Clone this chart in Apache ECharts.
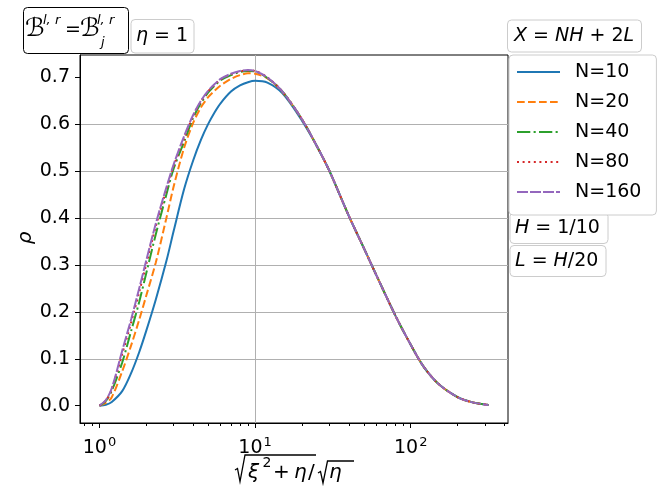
<!DOCTYPE html>
<html>
<head>
<meta charset="utf-8">
<script src="https://cdn.jsdelivr.net/npm/echarts@6/dist/echarts.min.js"></script>
<style>
  html, body { margin: 0; padding: 0; background: #fff; }
  #main { width: 670px; height: 498px; }
</style>
</head>
<body>
<div id="main"></div>
<script>
// x = sqrt(xi^2+eta)/sqrt(eta), log scale
var xs = [1, 1.1, 1.2, 1.4, 1.6, 1.8, 2, 2.3, 2.7, 3, 3.5, 4, 4.5, 5, 5.5, 6, 7, 8, 9, 10, 12, 15, 20, 25, 30, 40, 50, 60, 80, 100, 120, 150, 200, 250, 316.2];

// rho per N
var n10  = [0, 0.002, 0.008, 0.031, 0.070, 0.114, 0.160, 0.226, 0.310, 0.373, 0.462, 0.523, 0.568, 0.601, 0.626, 0.645, 0.670, 0.683, 0.690, 0.693, 0.689, 0.666, 0.608, 0.553, 0.501, 0.405, 0.336, 0.279, 0.191, 0.130, 0.085, 0.047, 0.018, 0.007, 0.0015];
var n20  = [0, 0.006, 0.018, 0.073, 0.129, 0.183, 0.235, 0.305, 0.402, 0.468, 0.550, 0.603, 0.637, 0.658, 0.672, 0.683, 0.697, 0.705, 0.709, 0.708, 0.698, 0.669, 0.611, 0.553, 0.501, 0.405, 0.336, 0.279, 0.191, 0.130, 0.085, 0.047, 0.018, 0.007, 0.0015];
var n40  = [0, 0.010, 0.032, 0.092, 0.160, 0.221, 0.283, 0.365, 0.452, 0.506, 0.563, 0.614, 0.646, 0.668, 0.683, 0.694, 0.705, 0.712, 0.714, 0.713, 0.699, 0.670, 0.611, 0.553, 0.501, 0.405, 0.336, 0.279, 0.191, 0.130, 0.085, 0.047, 0.018, 0.007, 0.0015];
var n80  = [0, 0.011, 0.035, 0.110, 0.178, 0.242, 0.302, 0.382, 0.462, 0.511, 0.570, 0.618, 0.649, 0.671, 0.685, 0.696, 0.707, 0.713, 0.715, 0.714, 0.700, 0.670, 0.611, 0.553, 0.501, 0.405, 0.336, 0.279, 0.191, 0.130, 0.085, 0.047, 0.018, 0.007, 0.0015];
var n160 = [0, 0.012, 0.037, 0.117, 0.185, 0.250, 0.310, 0.388, 0.467, 0.515, 0.575, 0.620, 0.651, 0.672, 0.686, 0.697, 0.708, 0.714, 0.716, 0.714, 0.700, 0.670, 0.611, 0.553, 0.501, 0.405, 0.336, 0.279, 0.191, 0.130, 0.085, 0.047, 0.018, 0.007, 0.0015];

var names = ['N=10', 'N=20', 'N=40', 'N=80', 'N=160'];
var yTicks = [0, 0.1, 0.2, 0.3, 0.4, 0.5, 0.6, 0.7];
var xMajor = [1, 10, 100];
var xMinor = [0.8, 0.9, 2, 3, 4, 5, 6, 7, 8, 9, 20, 30, 40, 50, 60, 70, 80, 90, 200, 300, 400];

(function(){

	var FONT = 'DejaVu Sans';
	var colors = ['#1f77b4', '#ff7f0e', '#2ca02c', '#d62728', '#9467bd'];
	var dashes = ['solid', [7.7, 3.3], [13.3, 3.3, 2.1, 3.3], [2, 3.6], [11, 2]];
	var allData = [n10, n20, n40, n80, n160];

	var xMin = 0.75, xMax = 421.7;
	var yMin = -0.037, yMax = 0.748;

	var myChart = echarts.init(document.getElementById('main'), null, {renderer: 'canvas'});

	var series = allData.map(function(ys, k){
		return {
			name: names[k],
			type: 'line',
			smooth: 0.3,
			symbol: 'none',
			animation: false,
			lineStyle: { color: colors[k], width: 2, type: dashes[k] },
			itemStyle: { color: colors[k] },
			data: xs.map(function(x, i){ return [x, ys[i]]; })
		};
	});

	//small boxes with annotations
	function box(x, y, w, h, stroke){
		return {
			type: 'rect', silent: true,
			shape: { x: x, y: y, width: w, height: h, r: 4 },
			style: { fill: '#fff', stroke: stroke, lineWidth: 1 }
		};
	}
	function txt(x, y, text, size, italic, rich){
		return {
			type: 'text', silent: true, x: x, y: y,
			style: {
				text: text, fill: '#000',
				font: (italic ? 'italic ' : '') + size + 'px "' + FONT + '"',
				verticalAlign: 'middle', align: 'left',
				rich: rich
			}
		};
	}
	function rad(points){
		return { type: 'polyline', silent: true, shape: { points: points }, style: { stroke: '#000', lineWidth: 1.3, fill: null } };
	}
	var richI = { i: { fontStyle: 'italic', fontSize: 19, fontFamily: FONT } };

	var graphics = [
		box(23.5, 7.5, 105, 46, '#000'),
		txt(25, 29, 'ℬ', 25, false),
		txt(43, 21, 'l, r', 13, true),
		txt(65, 30, '=', 19, false),
		txt(80, 29, 'ℬ', 25, false),
		txt(97, 21, 'l, r', 13, true),
		txt(101, 43, 'j', 13, true),

		box(131, 19.5, 63, 33.5, '#cccccc'),
		txt(136, 36, '{i|η} = 1', 19, false, richI),

		box(507.5, 20, 134, 32, '#cccccc'),
		txt(514, 36, '{i|X} = {i|NH} + 2{i|L}', 19, false, richI),

		box(510, 212.5, 98, 31, '#cccccc'),
		txt(515, 228, '{i|H} = 1/10', 19, false, richI),

		box(510, 245.5, 96, 31, '#cccccc'),
		txt(515, 261, '{i|L} = {i|H}/20', 19, false, richI),

		// y axis title
		{
			type: 'text', silent: true, x: 26, y: 238, rotation: Math.PI / 2,
			style: { text: 'ρ', fill: '#000', font: 'italic 20px "' + FONT + '"', align: 'center', verticalAlign: 'middle' }
		},

		// x axis title: sqrt(xi^2 + eta) / sqrt(eta)
		rad([[235, 470], [237.5, 468.5], [240, 481.5], [245, 455], [316, 455]]),
		txt(248, 473, 'ξ', 20, true),
		txt(262.5, 463, '2', 14, false),
		txt(273, 473, '+', 20, false),
		txt(294, 473, 'η', 20, true),
		txt(308, 473, '/', 20, false),
		rad([[318, 473], [320.5, 471.5], [323, 483], [327.5, 461], [354, 461]]),
		txt(329, 473, 'η', 20, true)
	];

	var option = {
		backgroundColor: '#fff',
		animation: false,
		grid: { left: 80, top: 55, width: 428, height: 368, show: true, borderColor: '#000', borderWidth: 1, backgroundColor: 'transparent' },
		legend: {
			orient: 'vertical',
			left: 509, top: 55,
			data: names,
			itemWidth: 43, itemHeight: 12, itemGap: 10,
			padding: [7, 15, 13, 7],
			backgroundColor: '#fff',
			borderColor: '#cccccc', borderWidth: 1, borderRadius: 4,
			itemStyle: { opacity: 0, borderWidth: 0 },
			textStyle: { fontSize: 19, fontFamily: FONT, color: '#000', lineHeight: 20, padding: [0, 0, 0, 10] }
		},
		xAxis: [
			{
				type: 'log', logBase: 10, min: xMin, max: xMax, position: 'bottom',
				axisLine: { show: true, onZero: false, lineStyle: { color: '#000', width: 1 } },
				axisTick: { show: true, length: 5, customValues: xMajor, lineStyle: { color: '#000', width: 1 } },
				axisLabel: {
					customValues: xMajor, margin: 13, color: '#000',
					formatter: function(v){ return '{b|10}{s|' + Math.round(Math.log10(v)) + '}'; },
					rich: {
						b: { fontSize: 19, fontFamily: FONT, color: '#000' },
						s: { fontSize: 13, fontFamily: FONT, color: '#000', padding: [0, 0, 11, 1] }
					}
				},
				splitLine: { show: true, showMinLine: false, showMaxLine: false, lineStyle: { color: '#b0b0b0', width: 1 } }
			},
			{
				// minor ticks of the log axis, same place as the main one
				type: 'log', logBase: 10, min: xMin, max: xMax, position: 'bottom', offset: 0,
				axisLine: { show: false, onZero: false },
				axisTick: { show: true, length: 3, customValues: xMinor, lineStyle: { color: '#000', width: 1 } },
				axisLabel: { show: false },
				splitLine: { show: false }
			}
		],
		yAxis: {
			type: 'value', min: yMin, max: yMax, minInterval: 0.1, maxInterval: 0.1,
			axisLine: { show: true, onZero: false, lineStyle: { color: '#000', width: 1 } },
			axisTick: { show: true, length: 5, customValues: yTicks, lineStyle: { color: '#000', width: 1 } },
			axisLabel: {
				customValues: yTicks, margin: 10, color: '#000', fontSize: 19, fontFamily: FONT,
				formatter: function(v){ return v.toFixed(1); }
			},
			splitLine: { show: true, showMinLine: false, showMaxLine: false, lineStyle: { color: '#b0b0b0', width: 1 } }
		},
		series: series,
		graphic: graphics
	};
	myChart.setOption(option);

})();
</script>
</body>
</html>
